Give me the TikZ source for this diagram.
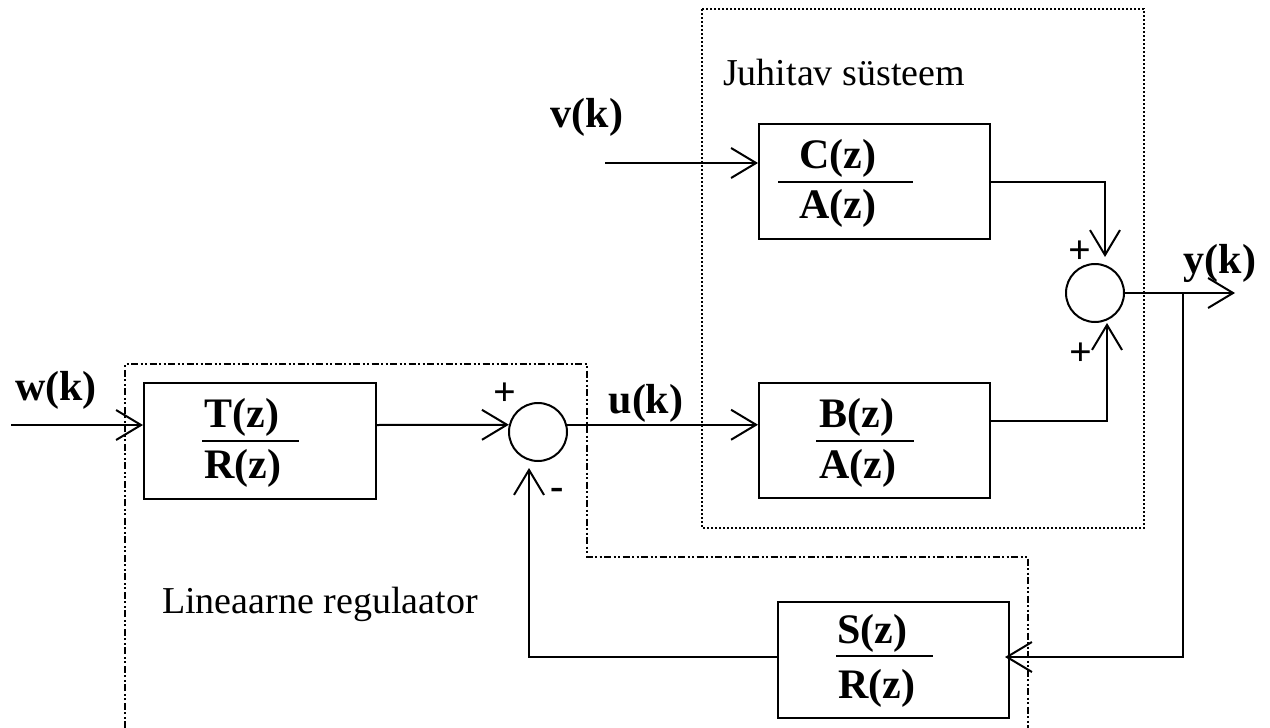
\documentclass[tikz,border=0pt]{standalone}
\usepackage{fontspec}
\setmainfont{Liberation Serif}
\usetikzlibrary{arrows.meta}

\tikzset{
  blk/.style={draw, line width=2pt, minimum width=231pt, minimum height=115pt, inner sep=0pt},
  sumnode/.style={draw, circle, line width=2pt, minimum size=58pt, inner sep=0pt},
  conn/.style={line width=2pt},
  arr/.style={conn, -{Straight Barb[length=25pt, width=30pt, line width=2pt]}},
  fracbar/.style={line width=2pt},
  big/.style={inner sep=0pt, anchor=base, font=\fontsize{42}{50}\selectfont\bfseries},
  caption/.style={inner sep=0pt, anchor=base west, font=\fontsize{38}{46}\selectfont},
  sign/.style={inner sep=0pt, font=\fontsize{40}{48}\selectfont\bfseries},
  plantbox/.style={line width=2pt, dash pattern=on 2pt off 2pt},
  ctrlbox/.style={line width=2pt, dash pattern=on 7pt off 2.5pt on 2pt off 2.5pt on 2pt off 2.5pt},
}

\begin{document}
\begin{tikzpicture}[x=1pt, y=-1pt]
\useasboundingbox (0,0) rectangle (1270,728);

% enclosing frames
\draw[plantbox] (702,9) rectangle (1144,528);
\draw[ctrlbox] (125,728) -- (125,364) -- (587,364) -- (587,557) -- (1028,557) -- (1028,728);

\node[caption] (plantname) at (723,85) {Juhitav süsteem};
\node[caption] (ctrlname) at (162,613) {Lineaarne regulaator};

% transfer function blocks
\node[blk] (C) at (874.5,181.5) {};
\node[blk] (B) at (874.5,440.5) {};
\node[blk, minimum width=232pt, minimum height=116pt] (T) at (260,441) {};
\node[blk, minimum height=116pt] (S) at (893.5,660) {};

\node[big] (Cn) at (838,168) {C(z)};
\node[big] (Cd) at (838,218) {A(z)};
\draw[fracbar] (778,182) -- (913,182);

\node[big] (Bn) at (857,427) {B(z)};
\node[big] (Bd) at (858,478) {A(z)};
\draw[fracbar] (816,441) -- (914,441);

\node[big] (Tn) at (242,427) {T(z)};
\node[big] (Td) at (243,478) {R(z)};
\draw[fracbar] (202,441) -- (299,441);

\node[big] (Sn) at (872,643) {S(z)};
\node[big] (Sd) at (877,698) {R(z)};
\draw[fracbar] (836,656) -- (933,656);

% summing junctions
\node[sumnode] (sum1) at (538,432) {};
\node[sumnode] (sum2) at (1095,293) {};

\node[sign] (p1) at (505,394) {+};
\node[sign] (m1) at (557,494) {-};
\node[sign] (p2) at (1080,252) {+};
\node[sign] (p3) at (1081,354) {+};

% signal labels
\node[big] (wk) at (56,400) {w(k)};
\node[big] (vk) at (587,127) {v(k)};
\node[big] (uk) at (646,413) {u(k)};
\node[big] (yk) at (1220,273) {y(k)};

% free ends and corners of the signal lines
\coordinate (win) at (11,425);
\coordinate (vin) at (605,163);
\coordinate (ctop) at (1105,257);
\coordinate (bo) at (1107,421);
\coordinate (cbot) at (1107,323);
\coordinate (yout) at (1235,293);
\coordinate (ybr) at (1183,293);
\coordinate (fbc) at (1183,657);
\coordinate (fbl) at (529,657);
\coordinate (stip) at (529,468);

% signal flow
\draw[arr] (win) -- (win -| T.west);
\draw[arr] (T.east |- win) -- (sum1.166);
\draw[arr] (sum1.14) -- (sum1.14 -| B.west);
\draw[arr] (vin) -- (vin -| C.west);
\draw[arr] (C.east) -| (ctop);
\draw[arr] (B.east |- bo) -- (bo) -- (cbot);
\draw[arr] (sum2.east) -- (yout);
\draw[arr, shorten >=-5pt] (ybr) -- (fbc) -- (fbc -| S.east);
\draw[arr] (S.west |- fbl) -- (fbl) -- (stip);
\end{tikzpicture}
\end{document}
